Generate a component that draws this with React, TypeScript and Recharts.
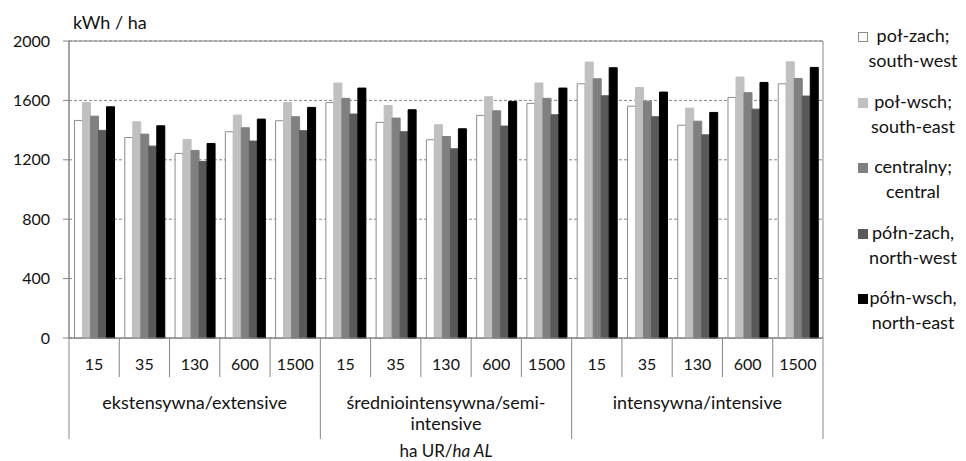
import React from "react";
import { BarChart, Bar, XAxis, YAxis, CartesianGrid, Legend, ReferenceArea } from "recharts";

const sizes = ["15", "35", "130", "600", "1500"];
const groups = ["ekstensywna/extensive", "średniointensywna/semi-intensive", "intensywna/intensive"];
const yTicks = [0, 400, 800, 1200, 1600, 2000];

// kWh / ha, 3 groups x 5 farm sizes
const southWest = [1465, 1350, 1243, 1389, 1463, 1585, 1452, 1335, 1499, 1580, 1712, 1561, 1433, 1620, 1712];
const southEast = [1586, 1456, 1337, 1501, 1586, 1717, 1566, 1436, 1625, 1717, 1858, 1687, 1548, 1757, 1860];
const central = [1494, 1373, 1263, 1416, 1490, 1614, 1481, 1357, 1530, 1614, 1746, 1595, 1460, 1652, 1748];
const northWest = [1398, 1292, 1189, 1326, 1396, 1508, 1389, 1274, 1427, 1503, 1631, 1490, 1368, 1541, 1629];
const northEast = [1557, 1429, 1310, 1474, 1553, 1683, 1537, 1409, 1593, 1683, 1820, 1656, 1519, 1721, 1822];

const series = [
  { key: "sw", values: southWest, fill: "#ffffff", stroke: "#8c8c8c", line1: "poł-zach;", line2: "south-west" },
  { key: "se", values: southEast, fill: "#c0c0c0", stroke: "#c0c0c0", line1: "poł-wsch;", line2: "south-east" },
  { key: "c", values: central, fill: "#808080", stroke: "#808080", line1: "centralny;", line2: "central" },
  { key: "nw", values: northWest, fill: "#595959", stroke: "#595959", line1: "półn-zach,", line2: "north-west" },
  { key: "ne", values: northEast, fill: "#000000", stroke: "#000000", line1: "półn-wsch,", line2: "north-east" },
];

const data = groups.flatMap((g, gi) =>
  sizes.map((s, si) => {
    const i = gi * sizes.length + si;
    const row: Record<string, string | number> = { id: `${gi}-${s}`, size: s, group: g };
    series.forEach((sr) => (row[sr.key] = sr.values[i]));
    return row;
  })
);

const W = 966;
const H = 461;
const MARGIN = { top: 41, right: 143, bottom: 0, left: 0 };
const Y_W = 69;
const X_H = 123;
const PLOT_W = W - MARGIN.left - MARGIN.right - Y_W;
const BAND = PLOT_W / data.length;
const FONT = "Lato, 'Open Sans', sans-serif";
const AXIS = "#868686";
const TEXT = "#111111";

function CategoryTick(props: any) {
  const { x, y, index } = props;
  const row = data[index];
  const first = index % sizes.length === 0;
  const mid = index % sizes.length === 2;
  const last = index === data.length - 1;
  const left = x - BAND / 2;
  const right = x + BAND / 2;
  const groupLines =
    row.group === groups[1] ? ["średniointensywna/semi-", "intensive"] : [String(row.group)];
  return (
    <g fontFamily={FONT} fill={TEXT}>
      <line x1={left} x2={left} y1={y} y2={y + (first ? 101 : 39)} stroke={AXIS} />
      {last && <line x1={right} x2={right} y1={y} y2={y + 101} stroke={AXIS} />}
      <text x={x} y={y + 25} textAnchor="middle" dominantBaseline="central" fontSize={16}>
        {row.size}
      </text>
      {mid &&
        groupLines.map((t, k) => (
          <text key={k} x={x} y={y + 64 + k * 21} textAnchor="middle" dominantBaseline="central" fontSize={18}>
            {t}
          </text>
        ))}
      {index === 7 && (
        <text x={x} y={y + 112} textAnchor="middle" dominantBaseline="central" fontSize={17}>
          ha UR/<tspan fontStyle="italic">ha AL</tspan>
        </text>
      )}
    </g>
  );
}

function LegendBox() {
  return (
    <div style={{ position: "relative", width: 116, height: 330, fontFamily: FONT, fontSize: 18, color: TEXT }}>
      {series.map((s, i) => (
        <div key={s.key} style={{ position: "absolute", left: 0, top: i * 65.5, width: 116, height: 50 }}>
          <div
            style={{
              position: "absolute",
              left: 8,
              top: 9,
              width: 10,
              height: 10,
              boxSizing: "border-box",
              background: s.fill,
              border: `1px solid ${s.stroke}`,
            }}
          />
          <div style={{ position: "absolute", left: 14, width: 98, textAlign: "center", lineHeight: "25px" }}>
            <div>{s.line1}</div>
            <div>{s.line2}</div>
          </div>
        </div>
      ))}
    </div>
  );
}

export default function App() {
  return (
    <div style={{ position: "absolute", left: 0, top: 0, width: W, height: H, background: "#fff" }}>
      <BarChart width={W} height={H} data={data} margin={MARGIN} barCategoryGap="11%" barGap={0}>
        <CartesianGrid vertical={false} stroke={AXIS} strokeDasharray="3 2" />
        <XAxis
          dataKey="id"
          height={X_H}
          interval={0}
          tickSize={0}
          tickMargin={0}
          tickLine={false}
          axisLine={{ stroke: AXIS }}
          tick={<CategoryTick />}
        />
        <YAxis
          width={Y_W}
          domain={[0, 2000]}
          ticks={yTicks}
          interval={0}
          tickSize={6}
          tickMargin={13}
          tickLine={{ stroke: AXIS }}
          axisLine={{ stroke: AXIS }}
          tick={{ fontSize: 16, fill: TEXT, fontFamily: FONT }}
          label={{
            content: (p: any) => (
              <text x={p.viewBox.x + p.viewBox.width + 4} y={p.viewBox.y - 19} dominantBaseline="central" fontSize={18} fill={TEXT} fontFamily={FONT}>
                kWh / ha
              </text>
            ),
          }}
        />
        <ReferenceArea y1={0} y2={2000} fill="none" fillOpacity={0} stroke={AXIS} strokeWidth={1} />
        <Legend
          layout="horizontal"
          verticalAlign="middle"
          align="center"
          wrapperStyle={{ left: 850, top: 23, width: 116, height: 330 }}
          content={() => <LegendBox />}
        />
        {series.map((s) => (
          <Bar key={s.key} dataKey={s.key} fill={s.fill} stroke={s.stroke} strokeWidth={1} isAnimationActive={false} />
        ))}
      </BarChart>
    </div>
  );
}
